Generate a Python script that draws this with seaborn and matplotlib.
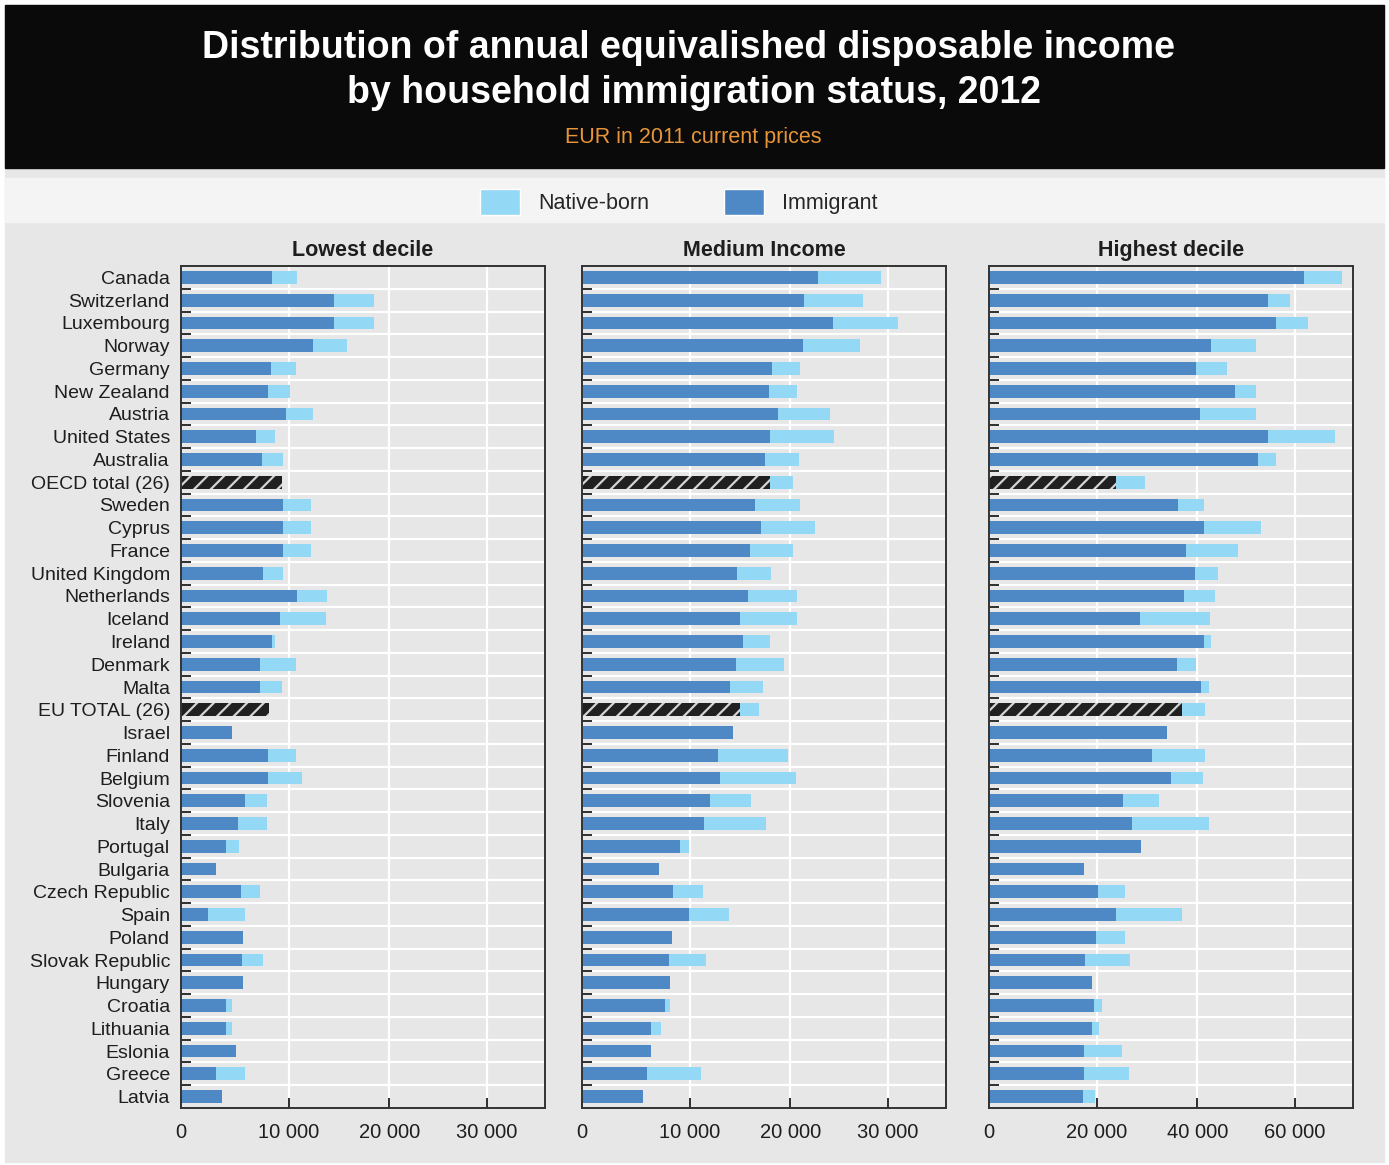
import numpy as np
import pandas as pd
import matplotlib
matplotlib.use("Agg")
import matplotlib.pyplot as plt
import seaborn as sns
from matplotlib.patches import Rectangle, Patch
from matplotlib.ticker import FixedLocator, FuncFormatter

# ---------------------------------------------------------------- data
countries = [
    "Canada", "Switzerland", "Luxembourg", "Norway", "Germany", "New Zealand",
    "Austria", "United States", "Australia", "OECD total (26)", "Sweden",
    "Cyprus", "France", "United Kingdom", "Netherlands", "Iceland", "Ireland",
    "Denmark", "Malta", "EU TOTAL (26)", "Israel", "Finland", "Belgium",
    "Slovenia", "Italy", "Portugal", "Bulgaria", "Czech Republic", "Spain",
    "Poland", "Slovak Republic", "Hungary", "Croatia", "Lithuania", "Eslonia",
    "Greece", "Latvia",
]
totals = ["OECD total (26)", "EU TOTAL (26)"]
nan = np.nan

low_immigrant = [8390, 14440, 14440, 12380, 8260, 7980, 9720, 6810, 7360, 9300,
                 9430, 9430, 9430, 7470, 10790, 9190, 8390, 7190, 7190, 8110,
                 4570, 7980, 7980, 5750, 5100, 3970, 3070, 5380, 2320, 5620,
                 5470, 5620, 3970, 3970, 4970, 3070, 3570]
low_native = [10770, 18420, 18420, 15800, 10660, 10140, 12380, 8640, 9430, nan,
              12130, 12130, 12130, 9430, 13760, 13620, 8640, 10660, 9300, nan,
              nan, 10660, 11320, 7840, 7840, 5210, nan, 7190, 5750, nan,
              7470, nan, 4570, 4570, nan, 5750, nan]

mid_immigrant = [22800, 21420, 24320, 21280, 18120, 17820, 18800, 17950, 17420, 17950,
                 16450, 17020, 15920, 14660, 15790, 14960, 15220, 14530, 14000, 14960,
                 14260, 12780, 12920, 11990, 11440, 9030, 7030, 8380, 9970, 8230,
                 7960, 8090, 7580, 6270, 6270, 5890, 5480]
mid_native = [29240, 27390, 31060, 27130, 20980, 20710, 24060, 24470, 20850, 20310,
              20980, 22490, 20310, 18090, 20710, 20710, 17950, 19330, 17250, 16850,
              nan, 19760, 20570, 16020, 17550, 9930, nan, 11300, 13860, nan,
              11570, nan, 8090, 7240, nan, 11050, nan]

high_immigrant = [61780, 54460, 56160, 42760, 39730, 47710, 40530, 54460, 52470, 23860,
                  36100, 41350, 37790, 39470, 37250, 28460, 41350, 35850, 40820, 36910,
                  33900, 30990, 34780, 25240, 26880, 28720, 17420, 20140, 23860, 19860,
                  17730, 19030, 19360, 19030, 17480, 17480, 17220]
high_native = [69730, 58980, 62610, 51920, 46090, 51920, 51920, 68280, 56160, 29520,
               41350, 53030, 48330, 44120, 43570, 42500, 42760, 39670, 42440, 41630,
               nan, 41630, 41090, 32240, 42440, nan, nan, 25490, 36910, 25490,
               26540, nan, 20920, 20390, 24960, 26280, 19610]

panels = [
    ("Lowest decile", low_immigrant, low_native, 36000, [0, 10000, 20000, 30000]),
    ("Medium Income", mid_immigrant, mid_native, 36000, [0, 10000, 20000, 30000]),
    ("Highest decile", high_immigrant, high_native, 72000, [0, 20000, 40000, 60000]),
]

# ---------------------------------------------------------------- style
NATIVE = "#93d8f5"
IMMIGRANT = "#4f89c5"
TOTAL = "#202020"
BG = "#e6e7e6"
BAND = "#f3f4f3"
INK = "#1e1e1e"

sns.set_style("ticks")
plt.rcParams["font.family"] = ["Liberation Sans", "DejaVu Sans"]
plt.rcParams["hatch.color"] = "#d4d4d4"
plt.rcParams["hatch.linewidth"] = 1.6

W, H = 1389, 1165
fig = plt.figure(figsize=(W / 100, H / 100), dpi=100, facecolor="white")


def fx(px):
    return px / W


def fy(py):
    return 1 - py / H


# page background, header block and legend band
fig.patches.append(Rectangle((fx(5), fy(1162)), fx(1379), 1157 / H,
                             transform=fig.transFigure, color=BG, zorder=-3))
fig.patches.append(Rectangle((fx(5), fy(168)), fx(1379), 163 / H,
                             transform=fig.transFigure, color="#0a0a0a", zorder=-2))
fig.patches.append(Rectangle((fx(5), fy(222)), fx(1379), 44 / H,
                             transform=fig.transFigure, color=BAND, zorder=-2))

fig.text(fx(689), fy(48), "Distribution of annual equivalished disposable income",
         ha="center", va="center", color="white", fontsize=27, fontweight="bold")
fig.text(fx(694), fy(93), "by household immigration status, 2012",
         ha="center", va="center", color="white", fontsize=27, fontweight="bold")
fig.text(fx(693), fy(137), "EUR in 2011 current prices",
         ha="center", va="center", color="#e8953a", fontsize=15.5)

handles = [Patch(facecolor=NATIVE, label="Native-born"),
           Patch(facecolor=IMMIGRANT, label="Immigrant")]
fig.legend(handles=handles, loc="center", bbox_to_anchor=(fx(679), fy(202)),
           ncol=2, frameon=False, fontsize=15.5, handlelength=1.87,
           handleheight=1.55, handletextpad=0.85, columnspacing=3.45)

# ---------------------------------------------------------------- axes
lefts = [181, 582, 989]
width_px = 364
top_px, bottom_px = 266, 1108

power = 0.95


def fwd(x):
    x = np.asarray(x, dtype=float)
    return np.sign(x) * np.abs(x) ** power


def inv(y):
    y = np.asarray(y, dtype=float)
    return np.sign(y) * np.abs(y) ** (1 / power)


n = len(countries)
for i, (title, imm, nat, xmax, ticks) in enumerate(panels):
    ax = fig.add_axes([fx(lefts[i]), fy(bottom_px), width_px / W,
                       (bottom_px - top_px) / H])
    ax.set_facecolor(BG)

    df = pd.DataFrame({"country": countries, "Native-born": nat, "Immigrant": imm})
    is_total = df["country"].isin(totals)
    common = dict(y="country", order=countries, orient="h", errorbar=None,
                  saturation=1, width=0.56, ax=ax)

    sns.barplot(data=df.dropna(subset=["Native-born"]), x="Native-born",
                color=NATIVE, linewidth=0, **common)
    sns.barplot(data=df[~is_total], x="Immigrant", color=IMMIGRANT,
                linewidth=0, **common)
    sns.barplot(data=df[is_total], x="Immigrant", color=TOTAL, hatch="//",
                edgecolor="#d4d4d4", linewidth=0, **common)

    ax.set_xscale("function", functions=(fwd, inv))
    ax.set_xlim(0, xmax)
    ax.set_ylim(n - 0.5, -0.5)
    ax.set_xlabel("")
    ax.set_ylabel("")

    ax.xaxis.set_major_locator(FixedLocator(ticks))
    ax.xaxis.set_major_formatter(
        FuncFormatter(lambda v, p: f"{v:,.0f}".replace(",", " ")))
    ax.xaxis.set_minor_locator(FixedLocator([]))
    ax.yaxis.set_minor_locator(FixedLocator(np.arange(0.5, n - 1, 1.0)))

    ax.tick_params(axis="x", which="major", direction="in", length=7, width=1.3,
                   color=INK, labelsize=14.5, labelcolor=INK, pad=11)
    ax.tick_params(axis="y", which="major", length=0, labelsize=14,
                   labelcolor=INK, pad=8, labelleft=(i == 0))
    ax.tick_params(axis="y", which="minor", direction="in", length=7.5,
                   width=1.3, color=INK, left=True)

    ax.set_axisbelow(True)
    ax.grid(axis="x", which="major", color="white", lw=1.6)
    ax.grid(axis="y", which="minor", color="white", lw=1.6)
    ax.grid(axis="y", which="major", visible=False)

    for side in ["top", "right", "bottom", "left"]:
        ax.spines[side].set_visible(True)
        ax.spines[side].set_color("#333333")
        ax.spines[side].set_linewidth(1.4)

    ax.set_title(title, fontsize=15.5, fontweight="bold", color=INK, pad=7)

fig.savefig("out.png", dpi=100, facecolor="white")
